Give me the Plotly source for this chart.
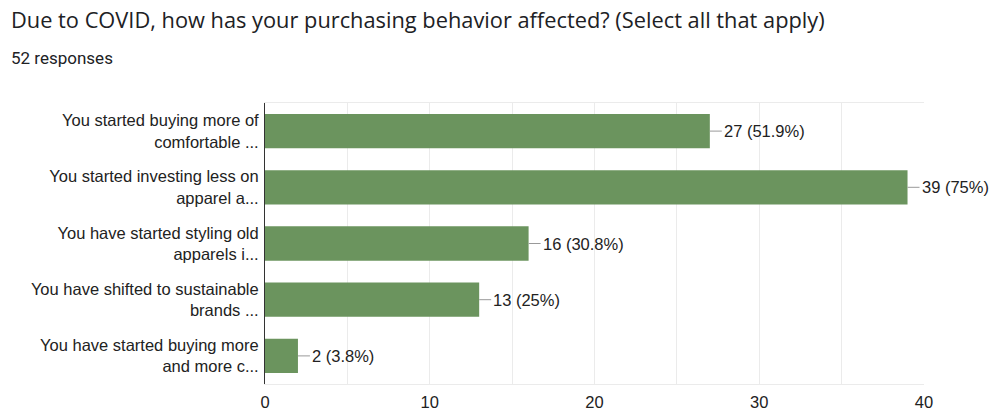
import plotly.graph_objects as go

categories = [
    "You started buying more of<br>comfortable ...",
    "You started investing less on<br>apparel a...",
    "You have started styling old<br>apparels i...",
    "You have shifted to sustainable<br>brands ...",
    "You have started buying more<br>and more c...",
]
counts = [27, 39, 16, 13, 2]
percents = ["51.9%", "75%", "30.8%", "25%", "3.8%"]
x_ticks = [0, 10, 20, 30, 40]

bar_color = "#6b945e"
text_color = "#222222"
font_family = "Liberation Sans, Arial, sans-serif"

fig = go.Figure()
fig.add_trace(go.Bar(
    y=categories,
    x=counts,
    orientation="h",
    marker=dict(color=bar_color, line=dict(width=0)),
    hoverinfo="skip",
))

for cat, c, p in zip(categories, counts, percents):
    fig.add_annotation(
        x=c, y=cat, xref="x", yref="y",
        text=f"{c} ({p})",
        showarrow=True, arrowhead=0, arrowwidth=1, arrowcolor="#999999",
        ax=12, ay=0, xanchor="left", yanchor="middle", standoff=0,
        font=dict(size=16.5, color=text_color, family=font_family),
    )

plot_w = 659
plot_h = 281
fig.add_annotation(
    text="Due to COVID, how has your purchasing behavior affected? (Select all that apply)",
    xref="paper", yref="paper", x=-(265 - 9) / plot_w, y=1 + (103 - 20) / plot_h,
    xanchor="left", yanchor="middle", showarrow=False,
    font=dict(size=21.8, color="#202124", family="Open Sans, Roboto, sans-serif"),
)
fig.add_annotation(
    text="52 responses",
    xref="paper", yref="paper", x=-(265 - 9) / plot_w, y=1 + (103 - 58) / plot_h,
    xanchor="left", yanchor="middle", showarrow=False,
    font=dict(size=17, color="#202124", family="Roboto, sans-serif"),
)

fig.update_layout(
    width=993, height=413,
    margin=dict(l=265, r=69, t=103, b=29, autoexpand=False),
    paper_bgcolor="white", plot_bgcolor="white",
    bargap=0.39,
    showlegend=False,
    font=dict(family=font_family, size=16.5, color=text_color),
    xaxis=dict(
        range=[0, 40], tickvals=x_ticks, ticktext=[str(v) for v in x_ticks],
        showgrid=True, gridcolor="#ebebeb", gridwidth=1,
        minor=dict(dtick=5, showgrid=True, gridcolor="#ebebeb"),
        zeroline=False, showline=True, linecolor="#ebebeb", mirror=True,
        ticks="", ticklabelstandoff=3, automargin=False,
        tickfont=dict(size=16.5, color=text_color, family=font_family),
        fixedrange=True,
    ),
    yaxis=dict(
        autorange="reversed", showgrid=False, zeroline=False,
        showline=True, linecolor="#333333", linewidth=1,
        ticks="", ticklabelstandoff=2, automargin=False,
        tickfont=dict(size=16.5, color=text_color, family=font_family),
        fixedrange=True,
    ),
)

fig.write_html(
    "out.html",
    config={"displayModeBar": False},
    post_script="document.body.style.margin='0';document.body.style.overflow='hidden';",
)
